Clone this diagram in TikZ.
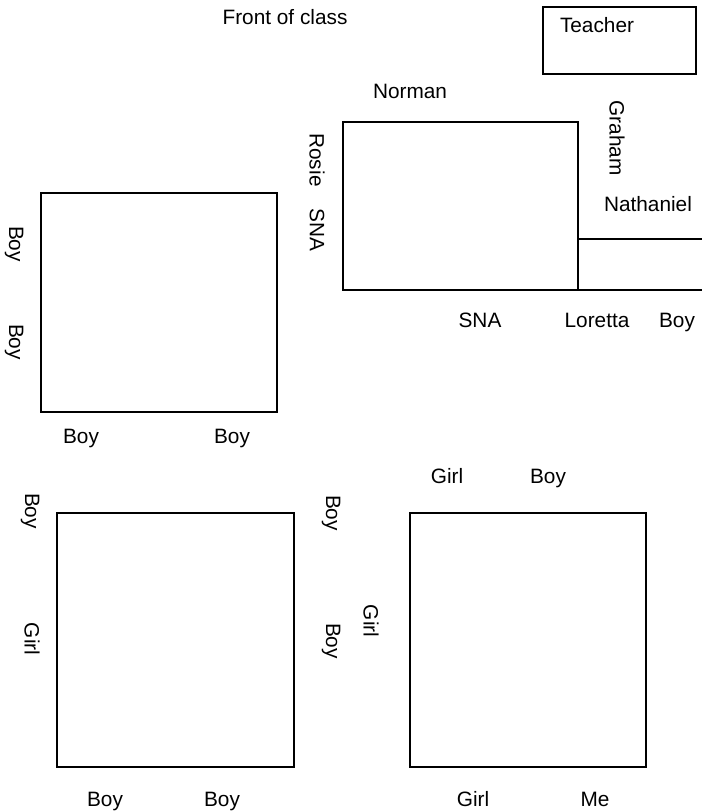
\documentclass[tikz,border=0pt]{standalone}
\usepackage{fontspec}
\setmainfont{Liberation Sans}
\begin{document}
\begin{tikzpicture}[x=1pt, y=-1pt,
    desk/.style={line width=1.5pt},
    lbl/.style={font=\fontsize{20.8}{25}\selectfont, inner sep=0pt, anchor=base},
    vlbl/.style={font=\fontsize{20.8}{25}\selectfont, inner sep=0pt, rotate=-90}]
    \useasboundingbox (0,0) rectangle (702,811);

    % 讲台与教师桌
    \node[lbl] (front) at (285,24) {Front of class};
    \draw[desk] (543,7) rectangle (696,74);
    \node[lbl] (teacher) at (597,32) {Teacher};

    % 右上方的大桌 ABCD 和旁边的小桌
    \coordinate (A) at (343,122);
    \coordinate (B) at (578,122);
    \coordinate (C) at (578,290);
    \coordinate (D) at (343,290);
    \coordinate (E) at (578,239);
    \coordinate (F) at (702,239);
    \coordinate (G) at (702,290);
    \draw[desk] (A) -- (B) -- (C) -- (D) -- cycle;
    \draw[desk] (E) -- (F);
    \draw[desk] (C) -- (G);

    % 大桌四周的名字
    \node[lbl] (norman) at (410,98) {Norman};
    \node[vlbl] (rosie) at (317,160) {Rosie};
    \node[vlbl] (snaL) at (317,230) {SNA};
    \node[vlbl] (graham) at (617,138) {Graham};
    \node[lbl] (nathaniel) at (648,211) {Nathaniel};
    \node[lbl] (snaB) at (480,327) {SNA};
    \node[lbl] (loretta) at (597,327) {Loretta};
    \node[lbl] (boyR) at (677,327) {Boy};

    % 左边中间的桌子
    \draw[desk] (41,193) rectangle (277,412);
    \node[vlbl] (boyLa) at (14,244) {Boy};
    \node[vlbl] (boyLb) at (14,342) {Boy};
    \node[lbl] (boyLc) at (81,443) {Boy};
    \node[lbl] (boyLd) at (232,443) {Boy};

    % 左下方的桌子
    \draw[desk] (57,513) rectangle (294,767);
    \node[vlbl] (boyPa) at (30,511) {Boy};
    \node[vlbl] (girlPa) at (32,639) {Girl};
    \node[vlbl] (boyPb) at (331,513) {Boy};
    \node[vlbl] (boyPc) at (331,641) {Boy};
    \node[lbl] (boyPd) at (105,806) {Boy};
    \node[lbl] (boyPe) at (222,806) {Boy};

    % 右下方的桌子
    \draw[desk] (410,513) rectangle (646,767);
    \node[lbl] (girlQa) at (447,483) {Girl};
    \node[lbl] (boyQa) at (548,483) {Boy};
    \node[vlbl] (girlQb) at (371,621) {Girl};
    \node[lbl] (girlQc) at (473,806) {Girl};
    \node[lbl] (me) at (595,806) {Me};
\end{tikzpicture}
\end{document}
